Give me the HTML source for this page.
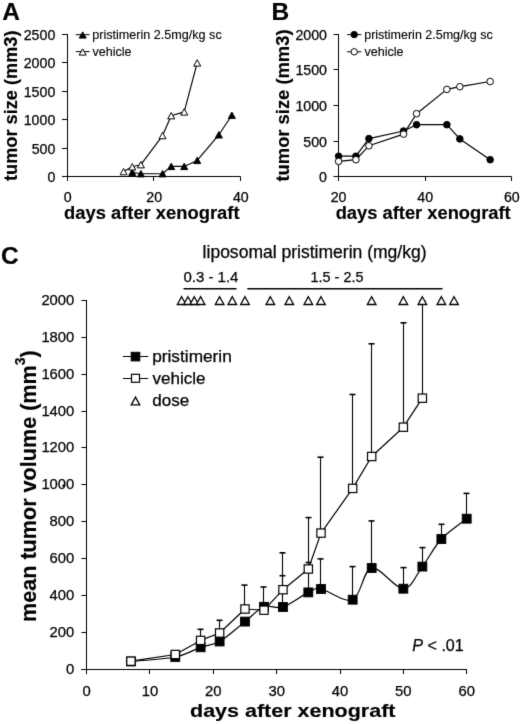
<!DOCTYPE html>
<html><head><meta charset="utf-8"><style>
html,body{margin:0;padding:0;background:#fff;}
svg{display:block;}
text{font-family:"Liberation Sans", sans-serif;fill:#000;stroke:#000;stroke-width:0.25px;}
text[font-weight=bold]{stroke-width:0.15px;}
svg{-webkit-font-smoothing:antialiased;will-change:transform;}
</style></head><body>
<svg width="520" height="724" viewBox="0 0 520 724">
<defs><filter id="bl" color-interpolation-filters="sRGB" filterUnits="userSpaceOnUse" x="0" y="0" width="520" height="724"><feConvolveMatrix order="3" kernelMatrix="0.0100 0.0800 0.0100 0.0800 0.6400 0.0800 0.0100 0.0800 0.0100" divisor="1" edgeMode="duplicate" preserveAlpha="false"/></filter></defs>
<g filter="url(#bl)">
<rect width="520" height="724" fill="#fff"/>
<text x="2.2" y="19.6" font-size="24.5" font-weight="bold" font-style="normal" text-anchor="start">A</text>
<line x1="67.5" y1="34" x2="67.5" y2="181" stroke="#000" stroke-width="1"/>
<line x1="62" y1="176.5" x2="67.5" y2="176.5" stroke="#000" stroke-width="1"/>
<text x="55.3" y="181.7" font-size="14.2" font-weight="normal" font-style="normal" text-anchor="end">0</text>
<line x1="62" y1="148.5" x2="67.5" y2="148.5" stroke="#000" stroke-width="1"/>
<text x="55.3" y="153.7" font-size="14.2" font-weight="normal" font-style="normal" text-anchor="end">500</text>
<line x1="62" y1="119.5" x2="67.5" y2="119.5" stroke="#000" stroke-width="1"/>
<text x="55.3" y="124.7" font-size="14.2" font-weight="normal" font-style="normal" text-anchor="end">1000</text>
<line x1="62" y1="91.5" x2="67.5" y2="91.5" stroke="#000" stroke-width="1"/>
<text x="55.3" y="96.7" font-size="14.2" font-weight="normal" font-style="normal" text-anchor="end">1500</text>
<line x1="62" y1="62.5" x2="67.5" y2="62.5" stroke="#000" stroke-width="1"/>
<text x="55.3" y="67.7" font-size="14.2" font-weight="normal" font-style="normal" text-anchor="end">2000</text>
<line x1="62" y1="34.5" x2="67.5" y2="34.5" stroke="#000" stroke-width="1"/>
<text x="55.3" y="39.7" font-size="14.2" font-weight="normal" font-style="normal" text-anchor="end">2500</text>
<line x1="62" y1="176.5" x2="240.5" y2="176.5" stroke="#000" stroke-width="1"/>
<line x1="67.5" y1="176.5" x2="67.5" y2="181" stroke="#000" stroke-width="1"/>
<text x="67.6" y="202.0" font-size="14.2" font-weight="normal" font-style="normal" text-anchor="middle">0</text>
<line x1="153.5" y1="176.5" x2="153.5" y2="181" stroke="#000" stroke-width="1"/>
<text x="154.2" y="202.0" font-size="14.2" font-weight="normal" font-style="normal" text-anchor="middle">20</text>
<line x1="240.5" y1="176.5" x2="240.5" y2="181" stroke="#000" stroke-width="1"/>
<text x="240.8" y="202.0" font-size="14.2" font-weight="normal" font-style="normal" text-anchor="middle">40</text>
<text x="64.0" y="218.5" font-size="17.5" font-weight="bold" font-style="normal" text-anchor="start" textLength="175.5" lengthAdjust="spacingAndGlyphs">days after xenograft</text>
<text transform="translate(17.4,181) rotate(-90)" font-size="18" font-weight="bold" textLength="150.5" lengthAdjust="spacingAndGlyphs">tumor size (mm3)</text>
<line x1="75.8" y1="34.7" x2="89.6" y2="34.7" stroke="#000" stroke-width="1"/>
<polygon points="82.70,31.90 86.20,38.10 79.20,38.10" fill="#000" stroke="#000" stroke-width="1" stroke-linejoin="miter"/>
<text x="92.2" y="38.9" font-size="12.5" font-weight="normal" font-style="normal" text-anchor="start" textLength="129.5" lengthAdjust="spacingAndGlyphs" style="stroke-width:0.12px">pristimerin 2.5mg/kg sc</text>
<line x1="75.8" y1="51.6" x2="89.6" y2="51.6" stroke="#000" stroke-width="1"/>
<polygon points="82.70,48.90 86.20,55.10 79.20,55.10" fill="#fff" stroke="#000" stroke-width="1" stroke-linejoin="miter"/>
<text x="92.6" y="55.7" font-size="12.5" font-weight="normal" font-style="normal" text-anchor="start" textLength="39" lengthAdjust="spacingAndGlyphs" style="stroke-width:0.12px">vehicle</text>
<polyline points="132.25,172.20 140.91,173.70 162.56,173.70 171.22,166.40 184.21,166.40 197.20,160.40 218.85,134.80 231.84,115.20" fill="none" stroke="#000" stroke-width="1.15" stroke-linejoin="round"/>
<polygon points="132.25,169.00 135.75,175.40 128.75,175.40" fill="#000" stroke="#000" stroke-width="1" stroke-linejoin="miter"/>
<polygon points="140.91,170.50 144.41,176.90 137.41,176.90" fill="#000" stroke="#000" stroke-width="1" stroke-linejoin="miter"/>
<polygon points="162.56,170.50 166.06,176.90 159.06,176.90" fill="#000" stroke="#000" stroke-width="1" stroke-linejoin="miter"/>
<polygon points="171.22,163.20 174.72,169.60 167.72,169.60" fill="#000" stroke="#000" stroke-width="1" stroke-linejoin="miter"/>
<polygon points="184.21,163.20 187.71,169.60 180.71,169.60" fill="#000" stroke="#000" stroke-width="1" stroke-linejoin="miter"/>
<polygon points="197.20,157.20 200.70,163.60 193.70,163.60" fill="#000" stroke="#000" stroke-width="1" stroke-linejoin="miter"/>
<polygon points="218.85,131.60 222.35,138.00 215.35,138.00" fill="#000" stroke="#000" stroke-width="1" stroke-linejoin="miter"/>
<polygon points="231.84,112.00 235.34,118.40 228.34,118.40" fill="#000" stroke="#000" stroke-width="1" stroke-linejoin="miter"/>
<polyline points="123.59,171.60 132.25,166.80 140.91,164.70 162.56,135.60 171.22,115.70 184.21,111.90 197.20,62.90" fill="none" stroke="#000" stroke-width="1.15" stroke-linejoin="round"/>
<polygon points="123.59,168.40 127.09,174.80 120.09,174.80" fill="#fff" stroke="#000" stroke-width="1" stroke-linejoin="miter"/>
<polygon points="132.25,163.60 135.75,170.00 128.75,170.00" fill="#fff" stroke="#000" stroke-width="1" stroke-linejoin="miter"/>
<polygon points="140.91,161.50 144.41,167.90 137.41,167.90" fill="#fff" stroke="#000" stroke-width="1" stroke-linejoin="miter"/>
<polygon points="162.56,132.40 166.06,138.80 159.06,138.80" fill="#fff" stroke="#000" stroke-width="1" stroke-linejoin="miter"/>
<polygon points="171.22,112.50 174.72,118.90 167.72,118.90" fill="#fff" stroke="#000" stroke-width="1" stroke-linejoin="miter"/>
<polygon points="184.21,108.70 187.71,115.10 180.71,115.10" fill="#fff" stroke="#000" stroke-width="1" stroke-linejoin="miter"/>
<polygon points="197.20,59.70 200.70,66.10 193.70,66.10" fill="#fff" stroke="#000" stroke-width="1" stroke-linejoin="miter"/>
<text x="271.6" y="19.6" font-size="24.5" font-weight="bold" font-style="normal" text-anchor="start">B</text>
<line x1="338.5" y1="34" x2="338.5" y2="181" stroke="#000" stroke-width="1"/>
<line x1="333.5" y1="176.5" x2="338.5" y2="176.5" stroke="#000" stroke-width="1"/>
<text x="327.0" y="181.7" font-size="14.2" font-weight="normal" font-style="normal" text-anchor="end">0</text>
<line x1="333.5" y1="141.5" x2="338.5" y2="141.5" stroke="#000" stroke-width="1"/>
<text x="327.0" y="146.7" font-size="14.2" font-weight="normal" font-style="normal" text-anchor="end">500</text>
<line x1="333.5" y1="105.5" x2="338.5" y2="105.5" stroke="#000" stroke-width="1"/>
<text x="327.0" y="110.7" font-size="14.2" font-weight="normal" font-style="normal" text-anchor="end">1000</text>
<line x1="333.5" y1="69.5" x2="338.5" y2="69.5" stroke="#000" stroke-width="1"/>
<text x="327.0" y="74.7" font-size="14.2" font-weight="normal" font-style="normal" text-anchor="end">1500</text>
<line x1="333.5" y1="34.5" x2="338.5" y2="34.5" stroke="#000" stroke-width="1"/>
<text x="327.0" y="39.7" font-size="14.2" font-weight="normal" font-style="normal" text-anchor="end">2000</text>
<line x1="338.5" y1="176.5" x2="511.5" y2="176.5" stroke="#000" stroke-width="1"/>
<line x1="338.5" y1="176.5" x2="338.5" y2="181" stroke="#000" stroke-width="1"/>
<text x="338.6" y="202.0" font-size="14.2" font-weight="normal" font-style="normal" text-anchor="middle">20</text>
<line x1="425.5" y1="176.5" x2="425.5" y2="181" stroke="#000" stroke-width="1"/>
<text x="425.20000000000005" y="202.0" font-size="14.2" font-weight="normal" font-style="normal" text-anchor="middle">40</text>
<line x1="511.5" y1="176.5" x2="511.5" y2="181" stroke="#000" stroke-width="1"/>
<text x="511.8" y="202.0" font-size="14.2" font-weight="normal" font-style="normal" text-anchor="middle">60</text>
<text x="335.7" y="218.5" font-size="17.5" font-weight="bold" font-style="normal" text-anchor="start" textLength="175" lengthAdjust="spacingAndGlyphs">days after xenograft</text>
<text transform="translate(288.5,181.5) rotate(-90)" font-size="18" font-weight="bold" textLength="152" lengthAdjust="spacingAndGlyphs">tumor size (mm3)</text>
<line x1="347.2" y1="34.6" x2="361.3" y2="34.6" stroke="#000" stroke-width="1"/>
<circle cx="354.20" cy="34.60" r="3.2" fill="#000" stroke="#000" stroke-width="1"/>
<text x="364.2" y="38.9" font-size="12.5" font-weight="normal" font-style="normal" text-anchor="start" textLength="128.5" lengthAdjust="spacingAndGlyphs" style="stroke-width:0.12px">pristimerin 2.5mg/kg sc</text>
<line x1="347.2" y1="51.8" x2="361.3" y2="51.8" stroke="#000" stroke-width="1"/>
<circle cx="354.20" cy="51.80" r="3.2" fill="#fff" stroke="#000" stroke-width="1"/>
<text x="364.6" y="55.7" font-size="12.5" font-weight="normal" font-style="normal" text-anchor="start" textLength="39" lengthAdjust="spacingAndGlyphs" style="stroke-width:0.12px">vehicle</text>
<polyline points="338.60,156.20 355.92,156.20 368.91,138.60 403.55,131.00 416.54,124.70 446.85,124.70 459.84,138.90 490.15,159.70" fill="none" stroke="#000" stroke-width="1.2" stroke-linejoin="round"/>
<circle cx="338.60" cy="156.20" r="3.3" fill="#000" stroke="#000" stroke-width="1"/>
<circle cx="355.92" cy="156.20" r="3.3" fill="#000" stroke="#000" stroke-width="1"/>
<circle cx="368.91" cy="138.60" r="3.3" fill="#000" stroke="#000" stroke-width="1"/>
<circle cx="403.55" cy="131.00" r="3.3" fill="#000" stroke="#000" stroke-width="1"/>
<circle cx="416.54" cy="124.70" r="3.3" fill="#000" stroke="#000" stroke-width="1"/>
<circle cx="446.85" cy="124.70" r="3.3" fill="#000" stroke="#000" stroke-width="1"/>
<circle cx="459.84" cy="138.90" r="3.3" fill="#000" stroke="#000" stroke-width="1"/>
<circle cx="490.15" cy="159.70" r="3.3" fill="#000" stroke="#000" stroke-width="1"/>
<polyline points="338.60,161.40 355.92,159.70 368.91,145.80 403.55,134.10 416.54,113.70 446.85,89.40 459.84,86.70 490.15,81.50" fill="none" stroke="#000" stroke-width="1.2" stroke-linejoin="round"/>
<circle cx="338.60" cy="161.40" r="3.3" fill="#fff" stroke="#000" stroke-width="1"/>
<circle cx="355.92" cy="159.70" r="3.3" fill="#fff" stroke="#000" stroke-width="1"/>
<circle cx="368.91" cy="145.80" r="3.3" fill="#fff" stroke="#000" stroke-width="1"/>
<circle cx="403.55" cy="134.10" r="3.3" fill="#fff" stroke="#000" stroke-width="1"/>
<circle cx="416.54" cy="113.70" r="3.3" fill="#fff" stroke="#000" stroke-width="1"/>
<circle cx="446.85" cy="89.40" r="3.3" fill="#fff" stroke="#000" stroke-width="1"/>
<circle cx="459.84" cy="86.70" r="3.3" fill="#fff" stroke="#000" stroke-width="1"/>
<circle cx="490.15" cy="81.50" r="3.3" fill="#fff" stroke="#000" stroke-width="1"/>
<text x="1.0" y="263.5" font-size="24.5" font-weight="bold" font-style="normal" text-anchor="start">C</text>
<line x1="86.5" y1="300" x2="86.5" y2="674.2" stroke="#000" stroke-width="1"/>
<line x1="81.5" y1="669.5" x2="86.5" y2="669.5" stroke="#000" stroke-width="1"/>
<text x="74.3" y="674.1" font-size="14.8" font-weight="normal" font-style="normal" text-anchor="end">0</text>
<line x1="81.5" y1="632.5" x2="86.5" y2="632.5" stroke="#000" stroke-width="1"/>
<text x="74.3" y="637.1" font-size="14.8" font-weight="normal" font-style="normal" text-anchor="end">200</text>
<line x1="81.5" y1="595.5" x2="86.5" y2="595.5" stroke="#000" stroke-width="1"/>
<text x="74.3" y="600.1" font-size="14.8" font-weight="normal" font-style="normal" text-anchor="end">400</text>
<line x1="81.5" y1="558.5" x2="86.5" y2="558.5" stroke="#000" stroke-width="1"/>
<text x="74.3" y="563.1" font-size="14.8" font-weight="normal" font-style="normal" text-anchor="end">600</text>
<line x1="81.5" y1="521.5" x2="86.5" y2="521.5" stroke="#000" stroke-width="1"/>
<text x="74.3" y="526.1" font-size="14.8" font-weight="normal" font-style="normal" text-anchor="end">800</text>
<line x1="81.5" y1="484.5" x2="86.5" y2="484.5" stroke="#000" stroke-width="1"/>
<text x="74.3" y="489.1" font-size="14.8" font-weight="normal" font-style="normal" text-anchor="end">1000</text>
<line x1="81.5" y1="447.5" x2="86.5" y2="447.5" stroke="#000" stroke-width="1"/>
<text x="74.3" y="452.1" font-size="14.8" font-weight="normal" font-style="normal" text-anchor="end">1200</text>
<line x1="81.5" y1="411.5" x2="86.5" y2="411.5" stroke="#000" stroke-width="1"/>
<text x="74.3" y="416.1" font-size="14.8" font-weight="normal" font-style="normal" text-anchor="end">1400</text>
<line x1="81.5" y1="374.5" x2="86.5" y2="374.5" stroke="#000" stroke-width="1"/>
<text x="74.3" y="379.1" font-size="14.8" font-weight="normal" font-style="normal" text-anchor="end">1600</text>
<line x1="81.5" y1="337.5" x2="86.5" y2="337.5" stroke="#000" stroke-width="1"/>
<text x="74.3" y="342.1" font-size="14.8" font-weight="normal" font-style="normal" text-anchor="end">1800</text>
<line x1="81.5" y1="300.5" x2="86.5" y2="300.5" stroke="#000" stroke-width="1"/>
<text x="74.3" y="305.1" font-size="14.8" font-weight="normal" font-style="normal" text-anchor="end">2000</text>
<line x1="81.5" y1="669.5" x2="467" y2="669.5" stroke="#000" stroke-width="1"/>
<line x1="86.5" y1="669.5" x2="86.5" y2="674" stroke="#000" stroke-width="1"/>
<text x="86.6" y="696.0" font-size="14.8" font-weight="normal" font-style="normal" text-anchor="middle">0</text>
<line x1="149.5" y1="669.5" x2="149.5" y2="674" stroke="#000" stroke-width="1"/>
<text x="149.95" y="696.0" font-size="14.8" font-weight="normal" font-style="normal" text-anchor="middle">10</text>
<line x1="213.5" y1="669.5" x2="213.5" y2="674" stroke="#000" stroke-width="1"/>
<text x="213.3" y="696.0" font-size="14.8" font-weight="normal" font-style="normal" text-anchor="middle">20</text>
<line x1="276.5" y1="669.5" x2="276.5" y2="674" stroke="#000" stroke-width="1"/>
<text x="276.65" y="696.0" font-size="14.8" font-weight="normal" font-style="normal" text-anchor="middle">30</text>
<line x1="340.5" y1="669.5" x2="340.5" y2="674" stroke="#000" stroke-width="1"/>
<text x="340.0" y="696.0" font-size="14.8" font-weight="normal" font-style="normal" text-anchor="middle">40</text>
<line x1="403.5" y1="669.5" x2="403.5" y2="674" stroke="#000" stroke-width="1"/>
<text x="403.35" y="696.0" font-size="14.8" font-weight="normal" font-style="normal" text-anchor="middle">50</text>
<line x1="466.5" y1="669.5" x2="466.5" y2="674" stroke="#000" stroke-width="1"/>
<text x="466.70000000000005" y="696.0" font-size="14.8" font-weight="normal" font-style="normal" text-anchor="middle">60</text>
<text x="190.0" y="717.4" font-size="18.5" font-weight="bold" font-style="normal" text-anchor="start" textLength="205.5" lengthAdjust="spacingAndGlyphs">days after xenograft</text>
<text transform="translate(36.0,622.0) rotate(-90)" font-size="21.6" font-weight="bold">mean tumor volume (mm<tspan font-size="14" dy="-10.8">3</tspan><tspan dy="10.8">)</tspan></text>
<text x="202.6" y="258.3" font-size="17.5" font-weight="normal" font-style="normal" text-anchor="start" textLength="224" lengthAdjust="spacingAndGlyphs">liposomal pristimerin (mg/kg)</text>
<text x="183.4" y="282.2" font-size="14.5" font-weight="normal" font-style="normal" text-anchor="start" textLength="55" lengthAdjust="spacingAndGlyphs">0.3 - 1.4</text>
<text x="310.5" y="282.2" font-size="14.5" font-weight="normal" font-style="normal" text-anchor="start" textLength="53" lengthAdjust="spacingAndGlyphs">1.5 - 2.5</text>
<line x1="183.5" y1="288.7" x2="236.5" y2="288.7" stroke="#000" stroke-width="1.6"/>
<line x1="247.3" y1="288.7" x2="442.5" y2="288.7" stroke="#000" stroke-width="1.6"/>
<line x1="122.9" y1="356.5" x2="148.2" y2="356.5" stroke="#000" stroke-width="1"/>
<rect x="131.20" y="352.30" width="8.6" height="8.6" fill="#000" stroke="#000" stroke-width="1"/>
<text x="152.2" y="362.0" font-size="17" font-weight="normal" font-style="normal" text-anchor="start" textLength="79.6" lengthAdjust="spacingAndGlyphs">pristimerin</text>
<line x1="122.9" y1="378.5" x2="148.2" y2="378.5" stroke="#000" stroke-width="1"/>
<rect x="131.50" y="374.30" width="8" height="8" fill="#fff" stroke="#000" stroke-width="1.2"/>
<text x="152.5" y="383.7" font-size="17" font-weight="normal" font-style="normal" text-anchor="start" textLength="53.0" lengthAdjust="spacingAndGlyphs">vehicle</text>
<polygon points="135.50,397.10 139.80,404.90 131.20,404.90" fill="none" stroke="#000" stroke-width="1.3" stroke-linejoin="miter"/>
<text x="152.3" y="406.0" font-size="17" font-weight="normal" font-style="normal" text-anchor="start" textLength="37.0" lengthAdjust="spacingAndGlyphs">dose</text>
<text x="412.3" y="651.0" font-size="16" textLength="51.5" lengthAdjust="spacingAndGlyphs"><tspan font-style="italic">P</tspan> &lt; .01</text>
<line x1="282.5" y1="607" x2="282.5" y2="575.7" stroke="#000" stroke-width="1.1"/>
<line x1="279.5" y1="575.7" x2="285.5" y2="575.7" stroke="#000" stroke-width="1.6"/>
<line x1="308.5" y1="592.4" x2="308.5" y2="562.5" stroke="#000" stroke-width="1.1"/>
<line x1="305.5" y1="562.5" x2="311.5" y2="562.5" stroke="#000" stroke-width="1.6"/>
<line x1="320.5" y1="589" x2="320.5" y2="558.9" stroke="#000" stroke-width="1.1"/>
<line x1="317.5" y1="558.9" x2="323.5" y2="558.9" stroke="#000" stroke-width="1.6"/>
<line x1="352.5" y1="599.7" x2="352.5" y2="566.6" stroke="#000" stroke-width="1.1"/>
<line x1="349.5" y1="566.6" x2="355.5" y2="566.6" stroke="#000" stroke-width="1.6"/>
<line x1="371.5" y1="568" x2="371.5" y2="520.9" stroke="#000" stroke-width="1.1"/>
<line x1="368.5" y1="520.9" x2="374.5" y2="520.9" stroke="#000" stroke-width="1.6"/>
<line x1="403.5" y1="588.7" x2="403.5" y2="567.6" stroke="#000" stroke-width="1.1"/>
<line x1="400.5" y1="567.6" x2="406.5" y2="567.6" stroke="#000" stroke-width="1.6"/>
<line x1="422.5" y1="566.6" x2="422.5" y2="547.6" stroke="#000" stroke-width="1.1"/>
<line x1="419.5" y1="547.6" x2="425.5" y2="547.6" stroke="#000" stroke-width="1.6"/>
<line x1="441.5" y1="539.0" x2="441.5" y2="524.3" stroke="#000" stroke-width="1.1"/>
<line x1="438.5" y1="524.3" x2="444.5" y2="524.3" stroke="#000" stroke-width="1.6"/>
<line x1="466.5" y1="518.7" x2="466.5" y2="493.4" stroke="#000" stroke-width="1.1"/>
<line x1="463.5" y1="493.4" x2="469.5" y2="493.4" stroke="#000" stroke-width="1.6"/>
<path d="M130.94,661.50 C138.34,660.75 163.68,659.37 175.29,657.00 C186.90,654.63 193.24,649.88 200.63,647.30 C208.02,644.72 212.24,645.78 219.63,641.50 C227.03,637.22 237.58,627.38 244.97,621.60 C252.37,615.82 257.65,609.23 263.98,606.80 C270.31,604.37 275.59,609.40 282.99,607.00 C290.38,604.60 301.99,595.40 308.32,592.40 C314.66,589.40 313.60,587.78 321.00,589.00 C328.39,590.22 344.22,603.20 352.67,599.70 C361.12,596.20 363.23,569.83 371.67,568.00 C380.12,566.17 394.90,588.93 403.35,588.70 C411.80,588.47 416.02,574.88 422.36,566.60 C428.69,558.32 433.97,546.98 441.36,539.00 C448.75,531.02 462.48,522.08 466.70,518.70" fill="none" stroke="#000" stroke-width="1.2"/>
<rect x="126.54" y="657.10" width="8.8" height="8.8" fill="#000" stroke="#000" stroke-width="1"/>
<rect x="170.89" y="652.60" width="8.8" height="8.8" fill="#000" stroke="#000" stroke-width="1"/>
<rect x="196.23" y="642.90" width="8.8" height="8.8" fill="#000" stroke="#000" stroke-width="1"/>
<rect x="215.23" y="637.10" width="8.8" height="8.8" fill="#000" stroke="#000" stroke-width="1"/>
<rect x="240.57" y="617.20" width="8.8" height="8.8" fill="#000" stroke="#000" stroke-width="1"/>
<rect x="259.58" y="602.40" width="8.8" height="8.8" fill="#000" stroke="#000" stroke-width="1"/>
<rect x="278.59" y="602.60" width="8.8" height="8.8" fill="#000" stroke="#000" stroke-width="1"/>
<rect x="303.93" y="588.00" width="8.8" height="8.8" fill="#000" stroke="#000" stroke-width="1"/>
<rect x="316.60" y="584.60" width="8.8" height="8.8" fill="#000" stroke="#000" stroke-width="1"/>
<rect x="348.27" y="595.30" width="8.8" height="8.8" fill="#000" stroke="#000" stroke-width="1"/>
<rect x="367.27" y="563.60" width="8.8" height="8.8" fill="#000" stroke="#000" stroke-width="1"/>
<rect x="398.95" y="584.30" width="8.8" height="8.8" fill="#000" stroke="#000" stroke-width="1"/>
<rect x="417.96" y="562.20" width="8.8" height="8.8" fill="#000" stroke="#000" stroke-width="1"/>
<rect x="436.96" y="534.60" width="8.8" height="8.8" fill="#000" stroke="#000" stroke-width="1"/>
<rect x="462.30" y="514.30" width="8.8" height="8.8" fill="#000" stroke="#000" stroke-width="1"/>
<line x1="200.5" y1="640.4" x2="200.5" y2="629.3" stroke="#000" stroke-width="1.1"/>
<line x1="197.5" y1="629.3" x2="203.5" y2="629.3" stroke="#000" stroke-width="1.6"/>
<line x1="219.5" y1="633" x2="219.5" y2="620.3" stroke="#000" stroke-width="1.1"/>
<line x1="216.5" y1="620.3" x2="222.5" y2="620.3" stroke="#000" stroke-width="1.6"/>
<line x1="244.5" y1="609" x2="244.5" y2="585.1" stroke="#000" stroke-width="1.1"/>
<line x1="241.5" y1="585.1" x2="247.5" y2="585.1" stroke="#000" stroke-width="1.6"/>
<line x1="263.5" y1="610.2" x2="263.5" y2="587" stroke="#000" stroke-width="1.1"/>
<line x1="260.5" y1="587" x2="266.5" y2="587" stroke="#000" stroke-width="1.6"/>
<line x1="282.5" y1="589.7" x2="282.5" y2="552.8" stroke="#000" stroke-width="1.1"/>
<line x1="279.5" y1="552.8" x2="285.5" y2="552.8" stroke="#000" stroke-width="1.6"/>
<line x1="308.5" y1="569" x2="308.5" y2="517.6" stroke="#000" stroke-width="1.1"/>
<line x1="305.5" y1="517.6" x2="311.5" y2="517.6" stroke="#000" stroke-width="1.6"/>
<line x1="320.5" y1="533.1" x2="320.5" y2="457.2" stroke="#000" stroke-width="1.1"/>
<line x1="317.5" y1="457.2" x2="323.5" y2="457.2" stroke="#000" stroke-width="1.6"/>
<line x1="352.5" y1="488.4" x2="352.5" y2="394.5" stroke="#000" stroke-width="1.1"/>
<line x1="349.5" y1="394.5" x2="355.5" y2="394.5" stroke="#000" stroke-width="1.6"/>
<line x1="371.5" y1="456.5" x2="371.5" y2="343.8" stroke="#000" stroke-width="1.1"/>
<line x1="368.5" y1="343.8" x2="374.5" y2="343.8" stroke="#000" stroke-width="1.6"/>
<line x1="403.5" y1="427.2" x2="403.5" y2="322.8" stroke="#000" stroke-width="1.1"/>
<line x1="400.5" y1="322.8" x2="406.5" y2="322.8" stroke="#000" stroke-width="1.6"/>
<line x1="422.5" y1="398.2" x2="422.5" y2="301" stroke="#000" stroke-width="1.1"/>
<line x1="419.5" y1="301" x2="425.5" y2="301" stroke="#000" stroke-width="1.6"/>
<polyline points="130.94,661.20 175.29,654.50 200.63,640.40 219.63,633.00 244.97,609.00 263.98,610.20 282.99,589.70 308.32,569.00 321.00,533.10 352.67,488.40 371.67,456.50 403.35,427.20 422.36,398.20" fill="none" stroke="#000" stroke-width="1.2" stroke-linejoin="round"/>
<rect x="126.79" y="657.05" width="8.3" height="8.3" fill="#fff" stroke="#000" stroke-width="1.2"/>
<rect x="171.14" y="650.35" width="8.3" height="8.3" fill="#fff" stroke="#000" stroke-width="1.2"/>
<rect x="196.48" y="636.25" width="8.3" height="8.3" fill="#fff" stroke="#000" stroke-width="1.2"/>
<rect x="215.48" y="628.85" width="8.3" height="8.3" fill="#fff" stroke="#000" stroke-width="1.2"/>
<rect x="240.82" y="604.85" width="8.3" height="8.3" fill="#fff" stroke="#000" stroke-width="1.2"/>
<rect x="259.83" y="606.05" width="8.3" height="8.3" fill="#fff" stroke="#000" stroke-width="1.2"/>
<rect x="278.84" y="585.55" width="8.3" height="8.3" fill="#fff" stroke="#000" stroke-width="1.2"/>
<rect x="304.18" y="564.85" width="8.3" height="8.3" fill="#fff" stroke="#000" stroke-width="1.2"/>
<rect x="316.85" y="528.95" width="8.3" height="8.3" fill="#fff" stroke="#000" stroke-width="1.2"/>
<rect x="348.52" y="484.25" width="8.3" height="8.3" fill="#fff" stroke="#000" stroke-width="1.2"/>
<rect x="367.52" y="452.35" width="8.3" height="8.3" fill="#fff" stroke="#000" stroke-width="1.2"/>
<rect x="399.20" y="423.05" width="8.3" height="8.3" fill="#fff" stroke="#000" stroke-width="1.2"/>
<rect x="418.21" y="394.05" width="8.3" height="8.3" fill="#fff" stroke="#000" stroke-width="1.2"/>
<polygon points="181.62,296.70 185.93,304.50 177.32,304.50" fill="#fff" stroke="#000" stroke-width="1.3" stroke-linejoin="miter"/>
<polygon points="187.96,296.70 192.26,304.50 183.66,304.50" fill="#fff" stroke="#000" stroke-width="1.3" stroke-linejoin="miter"/>
<polygon points="194.29,296.70 198.59,304.50 189.99,304.50" fill="#fff" stroke="#000" stroke-width="1.3" stroke-linejoin="miter"/>
<polygon points="200.63,296.70 204.93,304.50 196.33,304.50" fill="#fff" stroke="#000" stroke-width="1.3" stroke-linejoin="miter"/>
<polygon points="219.63,296.70 223.94,304.50 215.33,304.50" fill="#fff" stroke="#000" stroke-width="1.3" stroke-linejoin="miter"/>
<polygon points="232.31,296.70 236.61,304.50 228.00,304.50" fill="#fff" stroke="#000" stroke-width="1.3" stroke-linejoin="miter"/>
<polygon points="244.97,296.70 249.28,304.50 240.67,304.50" fill="#fff" stroke="#000" stroke-width="1.3" stroke-linejoin="miter"/>
<polygon points="270.31,296.70 274.62,304.50 266.01,304.50" fill="#fff" stroke="#000" stroke-width="1.3" stroke-linejoin="miter"/>
<polygon points="289.32,296.70 293.62,304.50 285.02,304.50" fill="#fff" stroke="#000" stroke-width="1.3" stroke-linejoin="miter"/>
<polygon points="308.32,296.70 312.62,304.50 304.02,304.50" fill="#fff" stroke="#000" stroke-width="1.3" stroke-linejoin="miter"/>
<polygon points="321.00,296.70 325.30,304.50 316.69,304.50" fill="#fff" stroke="#000" stroke-width="1.3" stroke-linejoin="miter"/>
<polygon points="371.67,296.70 375.97,304.50 367.37,304.50" fill="#fff" stroke="#000" stroke-width="1.3" stroke-linejoin="miter"/>
<polygon points="403.35,296.70 407.65,304.50 399.05,304.50" fill="#fff" stroke="#000" stroke-width="1.3" stroke-linejoin="miter"/>
<polygon points="422.36,296.70 426.66,304.50 418.06,304.50" fill="#fff" stroke="#000" stroke-width="1.3" stroke-linejoin="miter"/>
<polygon points="441.36,296.70 445.66,304.50 437.06,304.50" fill="#fff" stroke="#000" stroke-width="1.3" stroke-linejoin="miter"/>
<polygon points="454.03,296.70 458.33,304.50 449.73,304.50" fill="#fff" stroke="#000" stroke-width="1.3" stroke-linejoin="miter"/>
<circle cx="63.6" cy="485.8" r="1.3" fill="#000"/>
</g>
</svg>
</body></html>
